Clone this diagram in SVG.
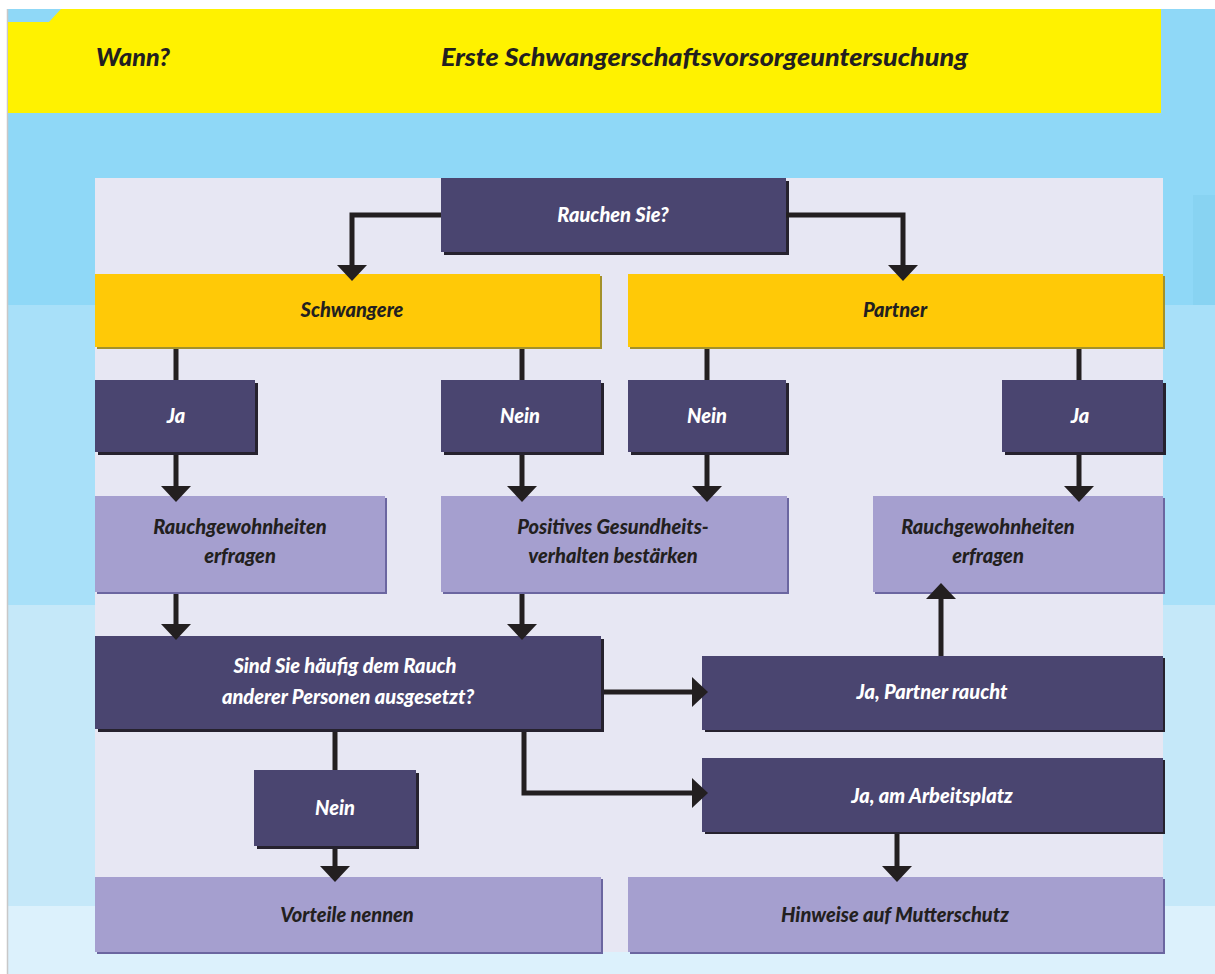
<svg xmlns="http://www.w3.org/2000/svg" width="1215" height="974" viewBox="0 0 1215 974">
  <style>
    .t { font-family: Lato, "Open Sans", "Liberation Sans", sans-serif; font-weight: 900; font-style: italic; text-anchor: middle; }
    .lbl { font-size: 20px; }
    .w { fill: #ffffff; }
    .d { fill: #231f20; }
    .dark { fill: #4a4570; }
    .darkS { fill: #26222e; }
    .light { fill: #a59fcf; }
    .lightS { fill: #6b66a0; }
    .gold { fill: #ffc907; }
    .goldS { fill: #a3912a; }
    .conn { fill: none; stroke: #231f20; stroke-width: 5; stroke-linejoin: miter; }
    .arr { marker-end: url(#head); }
  </style>
  <defs>
    <marker id="head" markerUnits="userSpaceOnUse" markerWidth="17" markerHeight="30" refX="1" refY="15" orient="auto">
      <path d="M0,0 L16,15 L0,30 Z" fill="#231f20"/>
    </marker>
  </defs>

  <!-- page background -->
  <rect x="0" y="0" width="1215" height="974" fill="#ffffff"/>
  <rect x="8" y="9" width="1207" height="296" fill="#8fd8f7"/>
  <rect x="8" y="305" width="1207" height="300" fill="#a8e0f9"/>
  <rect x="8" y="605" width="1207" height="301" fill="#c5e8f9"/>
  <rect x="8" y="906" width="1207" height="68" fill="#dcf1fc"/>
  <rect x="1193" y="195" width="22" height="110" fill="#88d3f2"/>
  <line x1="7.5" y1="9" x2="7.5" y2="974" stroke="#c8c8c8" stroke-width="1.5"/>

  <!-- header band -->
  <polygon points="61,9 1161,9 1161,113 8,113 8,22 49,22" fill="#fff200"/>
  <text x="96" y="66" font-family="Lato, 'Open Sans', sans-serif" font-weight="900" font-style="italic" font-size="24" fill="#231f20" textLength="74" lengthAdjust="spacingAndGlyphs">Wann?</text>
  <text x="441" y="66" font-family="Lato, 'Open Sans', sans-serif" font-weight="900" font-style="italic" font-size="24" fill="#231f20" textLength="527" lengthAdjust="spacingAndGlyphs">Erste Schwangerschaftsvorsorgeuntersuchung</text>

  <!-- chart panel -->
  <rect x="95" y="178" width="1068" height="774" fill="#e7e7f3"/>

  <!-- nodes -->
  <g id="n-rauchen">
    <rect class="darkS" x="444" y="181" width="345" height="74"/>
    <rect class="dark" x="441" y="178" width="345" height="74"/>
    <text class="t lbl w" x="613" y="222">Rauchen Sie?</text>
  </g>
  <g id="n-schwangere">
    <rect class="goldS" x="97" y="276" width="505" height="73"/>
    <rect class="gold" x="95" y="274" width="505" height="73"/>
    <text class="t lbl d" x="352" y="317">Schwangere</text>
  </g>
  <g id="n-partner">
    <rect class="goldS" x="630" y="276" width="535" height="73"/>
    <rect class="gold" x="628" y="274" width="535" height="73"/>
    <text class="t lbl d" x="895" y="317">Partner</text>
  </g>
  <g id="n-ja-s">
    <rect class="darkS" x="98" y="383" width="160" height="72"/>
    <rect class="dark" x="95" y="380" width="160" height="72"/>
    <text class="t lbl w" x="176" y="423">Ja</text>
  </g>
  <g id="n-nein-s">
    <rect class="darkS" x="444" y="383" width="160" height="72"/>
    <rect class="dark" x="441" y="380" width="160" height="72"/>
    <text class="t lbl w" x="520" y="423">Nein</text>
  </g>
  <g id="n-nein-p">
    <rect class="darkS" x="631" y="383" width="158" height="72"/>
    <rect class="dark" x="628" y="380" width="158" height="72"/>
    <text class="t lbl w" x="707" y="423">Nein</text>
  </g>
  <g id="n-ja-p">
    <rect class="darkS" x="1005" y="383" width="161" height="72"/>
    <rect class="dark" x="1002" y="380" width="161" height="72"/>
    <text class="t lbl w" x="1080" y="423">Ja</text>
  </g>
  <g id="n-rauchgew-s">
    <rect class="lightS" x="97" y="498" width="290" height="96"/>
    <rect class="light" x="95" y="496" width="290" height="96"/>
    <text class="t lbl d" x="240" y="534">Rauchgewohnheiten</text>
    <text class="t lbl d" x="240" y="563">erfragen</text>
  </g>
  <g id="n-positiv">
    <rect class="lightS" x="443" y="498" width="346" height="96"/>
    <rect class="light" x="441" y="496" width="346" height="96"/>
    <text class="t lbl d" x="613" y="534">Positives Gesundheits-</text>
    <text class="t lbl d" x="613" y="563">verhalten bestärken</text>
  </g>
  <g id="n-rauchgew-p">
    <rect class="lightS" x="875" y="498" width="290" height="96"/>
    <rect class="light" x="873" y="496" width="290" height="96"/>
    <text class="t lbl d" x="988" y="534">Rauchgewohnheiten</text>
    <text class="t lbl d" x="988" y="563">erfragen</text>
  </g>
  <g id="n-passiv">
    <rect class="darkS" x="98" y="639" width="506" height="93"/>
    <rect class="dark" x="95" y="636" width="506" height="93"/>
    <text class="t lbl w" x="345" y="673">Sind Sie häufig dem Rauch</text>
    <text class="t lbl w" x="348" y="704">anderer Personen ausgesetzt?</text>
  </g>
  <g id="n-partner-raucht">
    <rect class="darkS" x="705" y="658" width="460" height="74"/>
    <rect class="dark" x="702" y="656" width="461" height="74"/>
    <text class="t lbl w" x="932" y="699">Ja, Partner raucht</text>
  </g>
  <g id="n-nein-passiv">
    <rect class="darkS" x="257" y="773" width="162" height="76"/>
    <rect class="dark" x="254" y="770" width="162" height="76"/>
    <text class="t lbl w" x="335" y="815">Nein</text>
  </g>
  <g id="n-arbeitsplatz">
    <rect class="darkS" x="705" y="760" width="460" height="74"/>
    <rect class="dark" x="702" y="758" width="461" height="74"/>
    <text class="t lbl w" x="932" y="803">Ja, am Arbeitsplatz</text>
  </g>
  <g id="n-vorteile">
    <rect class="lightS" x="97" y="879" width="506" height="75"/>
    <rect class="light" x="95" y="877" width="506" height="75"/>
    <text class="t lbl d" x="347" y="922">Vorteile nennen</text>
  </g>
  <g id="n-mutterschutz">
    <rect class="lightS" x="630" y="879" width="535" height="75"/>
    <rect class="light" x="628" y="877" width="535" height="75"/>
    <text class="t lbl d" x="895" y="922">Hinweise auf Mutterschutz</text>
  </g>

  <!-- connectors, drawn over the box edges so the heads overlap them -->
  <g id="connectors">
    <path class="conn arr" d="M441,215 H352 V266"/>
    <path class="conn arr" d="M786,215 H903 V266"/>
    <path class="conn" d="M176,349 V380"/>
    <path class="conn" d="M522,349 V380"/>
    <path class="conn" d="M707,349 V380"/>
    <path class="conn" d="M1079,349 V380"/>
    <path class="conn arr" d="M176,455 V487"/>
    <path class="conn arr" d="M522,455 V487"/>
    <path class="conn arr" d="M707,455 V487"/>
    <path class="conn arr" d="M1079,455 V487"/>
    <path class="conn arr" d="M176,594 V625"/>
    <path class="conn arr" d="M522,594 V625"/>
    <path class="conn arr" d="M604,692 H693"/>
    <path class="conn arr" d="M941,656 V598"/>
    <path class="conn" d="M335,732 V770"/>
    <path class="conn arr" d="M524,732 V793 H693"/>
    <path class="conn arr" d="M335,849 V867"/>
    <path class="conn arr" d="M897,834 V867"/>
  </g>
</svg>
